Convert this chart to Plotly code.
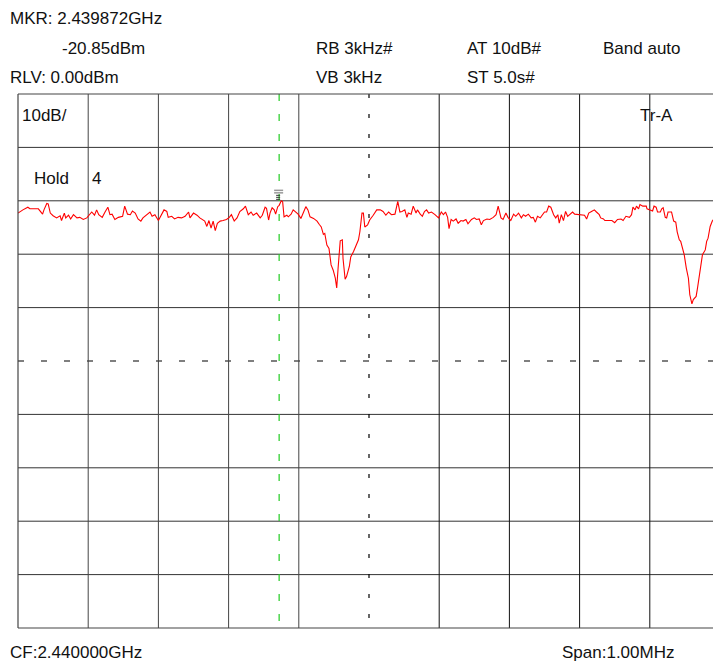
import plotly.graph_objects as go

# ---- instrument settings -------------------------------------------------
center_ghz = 2.440000
span_mhz = 1.00
ref_level_dbm = 0.00
db_per_div = 10
n_div = 10
rbw_text = "3kHz#"
vbw_text = "3kHz"
atten_text = "10dB#"
sweep_text = "5.0s#"
band_text = "auto"
hold_count = 4
trace_label = "Tr-A"

# marker (offset from start frequency, kHz) and its reading
marker_offset_khz = 372
marker_level_dbm = -20.85

# ---- max-hold trace: offset from start frequency (kHz) and level (dBm) ----
freq_offset_khz = [
    0, 3, 7, 14, 17, 29, 35, 37, 41, 43,
    46, 50, 55, 60, 62, 66, 68, 72, 75, 79,
    84, 88, 93, 98, 100, 105, 109, 112, 115, 120,
    124, 128, 131, 134, 138, 143, 149, 152, 156, 160,
    163, 167, 171, 175, 178, 183, 188, 191, 195, 200,
    204, 208, 212, 214, 219, 223, 228, 233, 238, 243,
    245, 250, 255, 259, 266, 269, 272, 275, 278, 281,
    284, 288, 292, 297, 301, 304, 308, 312, 316, 321,
    324, 328, 332, 335, 340, 345, 348, 352, 354, 357,
    359, 362, 365, 367, 370, 372, 375, 377, 379, 383,
    385, 389, 392, 396, 399, 403, 406, 410, 413, 416,
    421, 426, 429, 432, 435, 437, 440, 443, 446, 449,
    452, 454, 456, 459, 462, 463, 466, 468, 472, 474,
    478, 481, 485, 487, 490, 492, 494, 498, 501, 506,
    511, 516, 520, 524, 528, 532, 537, 541, 544, 547,
    551, 554, 556, 560, 563, 567, 569, 573, 576, 579,
    582, 585, 589, 594, 599, 603, 606, 609, 612, 614,
    617, 620, 624, 627, 631, 634, 638, 641, 646, 650,
    653, 657, 660, 663, 668, 672, 677, 681, 684, 688,
    691, 695, 698, 702, 706, 709, 713, 717, 720, 723,
    727, 731, 734, 737, 740, 744, 747, 750, 753, 756,
    759, 763, 766, 769, 771, 774, 777, 780, 783, 786,
    790, 793, 798, 802, 807, 810, 813, 817, 821, 824,
    828, 830, 834, 836, 841, 846, 850, 854, 859, 862,
    866, 871, 874, 876, 879, 881, 884, 886, 890, 895,
    896, 901, 904, 906, 909, 911, 915, 917, 919, 922,
    924, 926, 931, 934, 937, 939, 942, 944, 947, 949,
    952, 955, 957, 960, 962, 966, 968, 970, 972, 975,
    979, 981, 983, 986, 989, 994, 1000,
]

level_dbm = [
    -22.3, -22.0, -21.7, -21.2, -21.5, -21.5, -22.5, -21.7, -20.5, -20.6,
    -22.3, -22.8, -23.2, -22.8, -23.7, -22.3, -23.2, -22.7, -23.4, -22.6,
    -23.2, -23.1, -23.5, -23.2, -22.9, -22.1, -22.7, -21.7, -22.6, -23.1,
    -22.1, -21.2, -22.6, -22.5, -23.5, -23.1, -22.9, -21.0, -22.5, -22.6,
    -21.9, -22.3, -23.4, -23.8, -23.2, -22.6, -22.1, -22.9, -22.6, -23.7,
    -22.7, -21.7, -22.0, -23.1, -22.9, -23.4, -23.1, -23.2, -22.9, -22.1,
    -23.2, -22.3, -22.7, -23.2, -23.8, -24.8, -23.7, -25.1, -23.8, -25.6,
    -24.2, -23.8, -23.7, -23.5, -23.1, -22.6, -23.8, -23.2, -22.0, -21.5,
    -21.0, -22.6, -22.1, -22.7, -22.3, -23.2, -22.7, -21.2, -21.4, -23.6,
    -22.3, -21.3, -21.7, -22.5, -21.1, -20.85, -20.0, -20.2, -23.0, -22.7,
    -23.0, -22.5, -21.7, -22.2, -22.5, -23.3, -22.2, -21.1, -21.7, -23.0,
    -23.3, -23.8, -24.4, -24.9, -26.3, -26.1, -28.3, -28.9, -32.0, -33.0,
    -34.5, -36.3, -32.6, -27.5, -27.3, -30.8, -34.7, -34.2, -32.3, -30.5,
    -29.5, -28.6, -27.3, -25.8, -22.3, -22.3, -24.9, -24.5, -23.6, -22.7,
    -21.7, -21.7, -22.0, -22.7, -22.1, -22.6, -22.5, -20.1, -22.1, -22.0,
    -21.7, -23.1, -22.3, -22.5, -21.0, -22.3, -21.7, -22.5, -22.9, -22.0,
    -21.7, -22.3, -22.1, -22.6, -23.2, -22.1, -22.6, -22.1, -23.1, -25.2,
    -23.5, -23.8, -23.4, -24.2, -23.7, -23.8, -23.5, -24.3, -23.5, -23.2,
    -23.5, -23.4, -24.5, -23.7, -23.4, -23.5, -23.1, -22.6, -21.0, -23.2,
    -23.5, -22.3, -23.1, -23.7, -22.5, -22.9, -22.3, -23.2, -22.6, -22.9,
    -22.5, -23.2, -23.1, -24.0, -22.9, -23.2, -22.6, -22.1, -22.1, -21.0,
    -21.2, -22.6, -23.2, -22.6, -24.2, -22.6, -23.7, -22.0, -22.9, -22.6,
    -22.1, -22.5, -22.6, -22.6, -22.7, -23.4, -22.3, -22.0, -21.7, -22.1,
    -22.6, -23.2, -23.4, -23.7, -23.7, -23.7, -24.1, -23.5, -23.4, -23.7,
    -22.9, -23.1, -22.6, -21.2, -21.7, -21.0, -21.5, -20.7, -21.0, -21.0,
    -21.5, -21.7, -21.9, -21.0, -21.2, -22.1, -22.1, -21.5, -21.3, -23.1,
    -23.2, -22.1, -22.1, -23.8, -24.0, -25.8, -27.3, -27.6, -29.2, -30.1,
    -32.6, -34.5, -37.6, -39.3, -38.5, -37.9, -36.3, -34.5, -32.6, -30.1,
    -29.2, -27.6, -27.0, -24.8, -23.8, -23.0, -22.8,
]

# ---- page geometry -------------------------------------------------------
FIG_W, FIG_H = 713, 664
M_L, M_T, M_B = 18, 94, 36
GRID_W = 702                      # full 10-division width; right edge falls off the page
PLOT_W = FIG_W - M_L
PLOT_H = FIG_H - M_T - M_B

span_khz = span_mhz * 1000
khz_per_div = span_khz / n_div
x_max = span_khz * PLOT_W / GRID_W
bottom_dbm = ref_level_dbm - db_per_div * n_div

FONT = "Liberation Sans, Arial, sans-serif"


def paper_x(px):
    return (px - M_L) / PLOT_W


def paper_y(py):
    return (M_T + PLOT_H - py) / PLOT_H


fig = go.Figure()

fig.add_trace(go.Scatter(
    x=freq_offset_khz, y=level_dbm, mode="lines",
    line=dict(color="#ff0000", width=1.1),
    hoverinfo="skip", showlegend=False,
))

shapes = []
# vertical graticule
for i in range(1, n_div):
    xk = i * khz_per_div
    if i == n_div // 2:
        shapes.append(dict(type="line", xref="x", yref="y", x0=xk, x1=xk,
                           y0=ref_level_dbm, y1=bottom_dbm,
                           line=dict(color="#000000", width=1.2, dash="4px,16px"),
                           layer="below"))
    else:
        shapes.append(dict(type="line", xref="x", yref="y", x0=xk, x1=xk,
                           y0=ref_level_dbm, y1=bottom_dbm,
                           line=dict(color="#444444" if i < n_div // 2 else "#111111",
                                     width=1),
                           layer="below"))
# horizontal graticule
for j in range(1, n_div):
    yl = ref_level_dbm - j * db_per_div
    if j == n_div // 2:
        shapes.append(dict(type="line", xref="paper", yref="y", x0=0, x1=1,
                           y0=yl, y1=yl,
                           line=dict(color="#000000", width=1.2, dash="6px,17px"),
                           layer="below"))
    else:
        shapes.append(dict(type="line", xref="paper", yref="y", x0=0, x1=1,
                           y0=yl, y1=yl,
                           line=dict(color="#333333", width=1), layer="below"))
# frame (left, top, bottom)
for (x0, y0, x1, y1) in [(0, 0, 0, 1), (0, 1, 1, 1), (0, 0, 1, 0)]:
    shapes.append(dict(type="line", xref="paper", yref="paper",
                       x0=x0, y0=y0, x1=x1, y1=y1,
                       line=dict(color="#444444", width=1.2), layer="above"))
# marker line
shapes.append(dict(type="line", xref="x", yref="y",
                   x0=marker_offset_khz, x1=marker_offset_khz,
                   y0=ref_level_dbm, y1=bottom_dbm,
                   line=dict(color="#22cc22", width=1.2, dash="7px,13px"),
                   layer="below"))
# marker flag above the reading
for off, col in [(15, "#999999"), (12.5, "#999999")]:
    shapes.append(dict(type="line", xref="x", yref="y",
                       xsizemode="pixel", ysizemode="pixel",
                       xanchor=marker_offset_khz, yanchor=marker_level_dbm,
                       x0=-5, x1=4, y0=off, y1=off,
                       line=dict(color=col, width=1.5)))
for off in [10, 8, 6]:
    shapes.append(dict(type="line", xref="x", yref="y",
                       xsizemode="pixel", ysizemode="pixel",
                       xanchor=marker_offset_khz, yanchor=marker_level_dbm,
                       x0=-3, x1=1, y0=off, y1=off,
                       line=dict(color="#333333", width=1)))

marker_ghz = center_ghz - span_mhz / 2000 + marker_offset_khz / 1e6

labels = [
    (8, 18, f"MKR: {marker_ghz:.6f}GHz"),
    (60, 48, f"{marker_level_dbm:.2f}dBm"),
    (314, 48, f"RB {rbw_text}"),
    (465, 48, f"AT {atten_text}"),
    (601, 48, f"Band {band_text}"),
    (8, 78, f"RLV: {ref_level_dbm:.2f}dBm"),
    (314, 78, f"VB {vbw_text}"),
    (465, 78, f"ST {sweep_text}"),
    (20, 115, f"{db_per_div}dB/"),
    (32, 178, "Hold"),
    (90, 178, f"{hold_count}"),
    (638, 115, trace_label),
    (8, 652, f"CF:{center_ghz:.6f}GHz"),
    (560, 652, f"Span:{span_mhz:.2f}MHz"),
]
annotations = [
    dict(x=paper_x(px), y=paper_y(py), xref="paper", yref="paper",
         xanchor="left", yanchor="middle", text=t, showarrow=False,
         font=dict(family=FONT, size=17, color="#111111"))
    for px, py, t in labels
]

fig.update_layout(
    width=FIG_W, height=FIG_H,
    margin=dict(l=M_L, r=0, t=M_T, b=M_B, pad=0),
    paper_bgcolor="white", plot_bgcolor="white",
    xaxis=dict(range=[0, x_max], visible=False, fixedrange=True),
    yaxis=dict(range=[bottom_dbm, ref_level_dbm], visible=False, fixedrange=True),
    shapes=shapes, annotations=annotations,
    showlegend=False,
)

fig.write_html("out.html", config=dict(displayModeBar=False))
